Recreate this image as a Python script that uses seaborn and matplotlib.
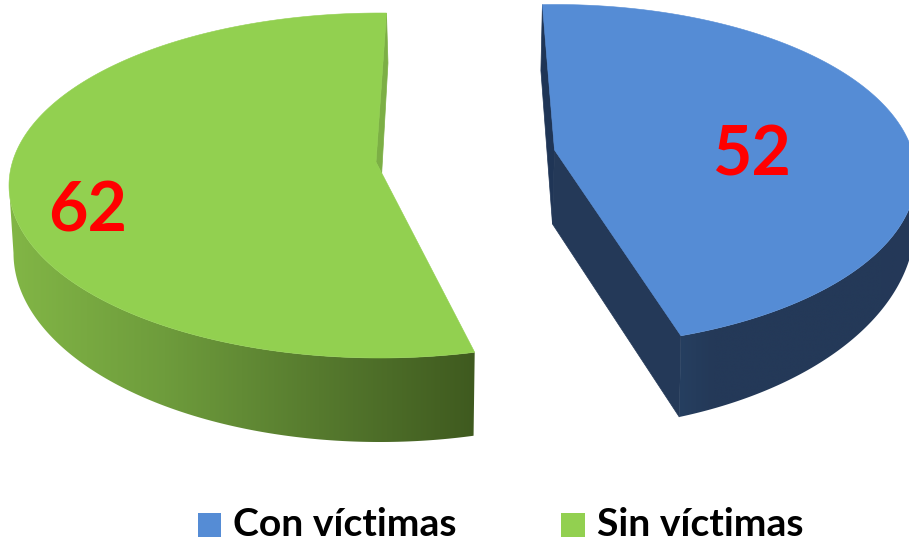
import numpy as np
import matplotlib
matplotlib.use("Agg")
import matplotlib.pyplot as plt
from matplotlib.colors import ListedColormap
from matplotlib.patches import Patch, Polygon
import seaborn as sns

categories = ["Con víctimas", "Sin víctimas"]
values = [52, 62]
colors = ["#558CD5", "#92D050"]

sns.set_theme(style="white")
plt.rcParams["font.family"] = ["Lato", "DejaVu Sans"]

fig, ax = plt.subplots(figsize=(9.09, 5.43), dpi=100)
fig.subplots_adjust(0, 0, 1, 1)
ax.axis("off")

total = sum(values)


def rim(ell, t):
    cx, cy, rx, ry = ell
    r = np.radians(t)
    return np.column_stack([cx + rx * np.cos(r), cy - ry * np.sin(r)])


def side_wall(top, bot, t0, t1, ramp):
    ts = np.linspace(t0, t1, 200)
    a, b = rim(top, ts), rim(bot, ts)
    outline = np.vstack([a, b[::-1]])
    x0, x1 = outline[:, 0].min(), outline[:, 0].max()
    y0, y1 = outline[:, 1].min(), outline[:, 1].max()
    clip = Polygon(outline, fc="none", ec="none", transform=ax.transData)
    ax.add_patch(clip)
    im = ax.imshow(np.linspace(0, 1, 256)[None, :], cmap=ListedColormap(ramp), aspect="auto",
                   extent=(x0, x1, y1, y0), interpolation="bilinear", zorder=2)
    im.set_clip_path(clip)


# Blue slice
b_top = (555, 175.5, 361, 171)
b_bot = (553, 223, 362, 207)
b_apex, b_apex_low = (554.5, 150), (552.5, 224)
b_start = 92
b_end = b_start - values[0] / total * 360 * 0.984
out_a, out_b = rim(b_top, b_start)[0], rim(b_top, b_end)[0]
low_b = rim(b_bot, b_end)[0]
ax.add_patch(Polygon([out_a, b_apex, b_apex_low, out_a + (-1.5, 66)], fc="#1F3556", ec="#1F3556", lw=0.5, zorder=1))
ax.add_patch(Polygon([b_apex, out_b, low_b, b_apex_low], fc="#243958", ec="#243958", lw=0.5, zorder=1))
side_wall(b_top, b_bot, b_end, 1.5,
          sns.blend_palette(["#263F60", "#243958", "#243958", "#243958", "#243958", "#243958", "#243958", "#243858"], 256))
ts = np.linspace(b_start, b_end, 200)
ax.add_patch(Polygon(np.vstack([rim(b_top, ts), b_apex]), fc=colors[0], ec=colors[0], lw=0.4, zorder=3))
ax.text(751, 150, str(values[0]), color="red", fontsize=49, fontweight="bold",
        ha="center", va="center_baseline", zorder=5)

# Green slice
g_top = (380, 185.5, 371, 172.5)
g_bot = (380, 253, 366.5, 189)
g_apex, g_apex_low = (376, 162), (381.7, 173)
g_start = 89
g_end = g_start + values[1] / total * 360
out_a, out_b = rim(g_top, g_start)[0], rim(g_top, g_end)[0]
ax.add_patch(Polygon([out_a, g_apex, g_apex_low, out_a + (1.5, 50)], fc="#7CAF45", ec="#7CAF45", lw=0.5, zorder=1))
side_wall(g_top, g_bot, 180, g_end, sns.blend_palette(["#82B646", "#6E9C3C", "#567A2E", "#3F5A1F"], 256))
ts = np.linspace(g_start, g_end, 240)
ax.add_patch(Polygon(np.vstack([rim(g_top, ts), g_apex]), fc=colors[1], ec=colors[1], lw=0.4, zorder=3))
ax.text(88, 206, str(values[1]), color="red", fontsize=49, fontweight="bold",
        ha="center", va="center_baseline", zorder=5)

ax.set_xlim(0, 909)
ax.set_ylim(543, 0)

handles = [Patch(fc=c, ec="none", label=n) for c, n in zip(colors, categories)]
leg = ax.legend(handles=handles, ncol=2, loc="center", bbox_to_anchor=(500.5 / 909, 1 - 524 / 543),
                frameon=False, prop={"size": 28.2, "weight": "bold"},
                handlelength=0.59, handleheight=0.59, handletextpad=0.31,
                columnspacing=2.68, borderpad=0, labelcolor="black")
for h in leg.legend_handles:
    h.set_y(h.get_y() - 2.5)

fig.savefig("out.png", dpi=100, facecolor="white")
